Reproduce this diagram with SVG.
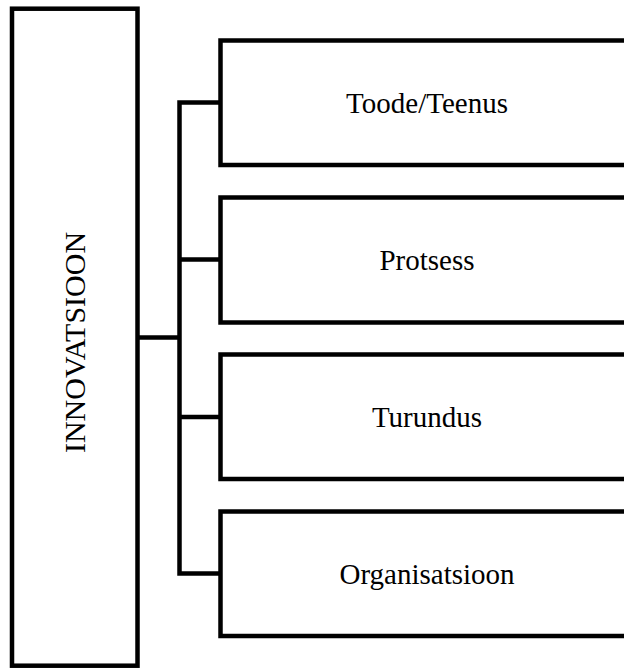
<svg xmlns="http://www.w3.org/2000/svg" width="624" height="668" viewBox="0 0 624 668">
<style>
.box{fill:#fff;stroke:#000;stroke-width:4.5}
.ln{fill:none;stroke:#000;stroke-width:4.5;stroke-linejoin:miter}
.t{font-family:'Liberation Serif','Times New Roman',Tinos,'DejaVu Serif','Noto Serif',serif;font-size:29px;fill:#000;text-anchor:middle}
</style>
<g id="innovatsioon">
<rect class="box" x="12" y="8.7" width="125.5" height="657"/>
<text class="t" transform="translate(85,342.5) rotate(-90)" style="font-size:30px">INNOVATSIOON</text>
</g>
<g id="connectors">
<path class="ln" d="M137.5,337.5 H179.5"/>
<path class="ln" d="M220.5,102.5 H179.5 V573.5 H220.5"/>
<path class="ln" d="M179.5,259.5 H220.5 M179.5,417 H220.5"/>
</g>
<g id="toode">
<rect class="box" x="220.5" y="40.5" width="420" height="124.5"/>
<text class="t" x="427" y="113">Toode/Teenus</text>
</g>
<g id="protsess">
<rect class="box" x="220.5" y="197.5" width="420" height="125"/>
<text class="t" x="427" y="270">Protsess</text>
</g>
<g id="turundus">
<rect class="box" x="220.5" y="354.5" width="420" height="124.5"/>
<text class="t" x="427" y="427">Turundus</text>
</g>
<g id="organisatsioon">
<rect class="box" x="220.5" y="511.5" width="420" height="124.5"/>
<text class="t" x="427" y="584">Organisatsioon</text>
</g>
</svg>
